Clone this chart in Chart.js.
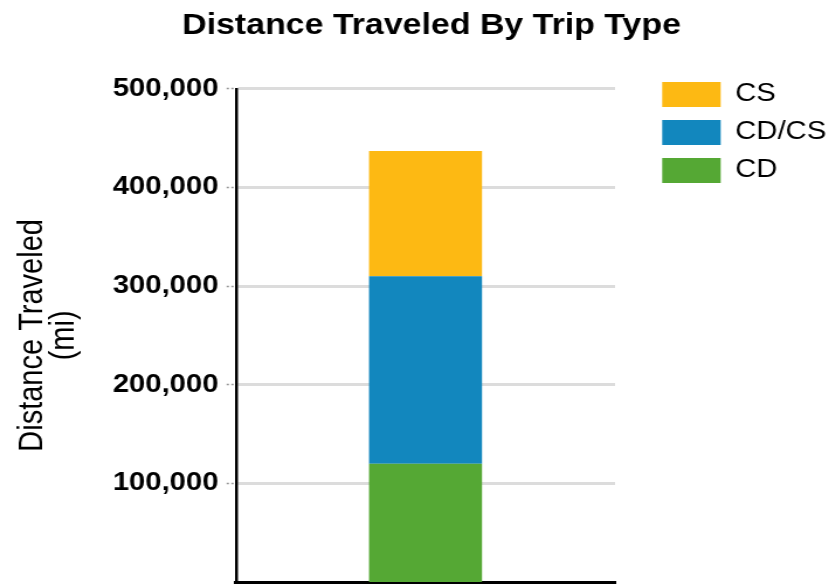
<!DOCTYPE html>
<html>
<head>
<meta charset="utf-8">
<title>Distance Traveled By Trip Type</title>
<script src="https://cdn.jsdelivr.net/npm/chart.js@4/dist/chart.umd.min.js"></script>
<style>
  html, body { margin: 0; padding: 0; background: #fff; overflow: hidden; }
  /* the source image is stretched sideways, so draw narrow and widen */
  #wrap { width: 709px; height: 584px; transform: scaleX(1.1693); transform-origin: 0 0; }
</style>
</head>
<body>
<div id="wrap"><canvas id="tripChart" width="709" height="584"></canvas></div>
<script>
const categories = [""];
const seriesNames = ["CD", "CD/CS", "CS"];
const cdValues = [120000];
const cdCsValues = [190000];
const csValues = [127000];
const yTicks = [0, 100000, 200000, 300000, 400000, 500000];
const seriesColors = ["#55A834", "#1287BE", "#FDB913"];

Chart.defaults.font.family = "'Liberation Sans', Arial, sans-serif";
Chart.defaults.color = "#000";

const ctx = document.getElementById("tripChart").getContext("2d");
const tripChart = new Chart(ctx, {
  type: "bar",
  data: {
    labels: categories,
    datasets: [cdValues, cdCsValues, csValues].map((vals, i) => ({
      label: seriesNames[i],
      data: vals,
      backgroundColor: seriesColors[i],
      categoryPercentage: 1,
      barPercentage: 0.298,
    })),
  },
  options: {
    responsive: false,
    animation: false,
    layout: { padding: { left: 21.4, right: -7.6, top: 0, bottom: 2 } },
    plugins: {
      tooltip: { enabled: false },
      title: {
        display: true,
        text: "Distance Traveled By Trip Type",
        color: "#000",
        font: { size: 29, weight: "bold" },
        padding: { top: 9, bottom: 45 },
      },
      legend: {
        position: "right",
        align: "start",
        reverse: true,
        title: { display: true, text: " ", font: { size: 10 }, padding: { top: 0, bottom: 57 } },
        labels: {
          boxWidth: 50,
          boxHeight: 25,
          padding: 13,
          color: "#000",
          font: { size: 25 },
        },
      },
    },
    scales: {
      x: {
        stacked: true,
        grid: { display: false, drawTicks: false },
        ticks: { display: false },
        border: { color: "#000", width: 3 },
      },
      y: {
        stacked: true,
        min: yTicks[0],
        max: yTicks[yTicks.length - 1],
        ticks: {
          stepSize: yTicks[1] - yTicks[0],
          color: "#000",
          padding: 7,
          font: { size: 25, weight: "bold" },
          callback: (v) => (v === 0 ? null : v.toLocaleString("en-US")),
        },
        grid: {
          color: "#dcdcdc",
          lineWidth: 3,
          tickLength: 8,
          tickColor: "#999",
          tickWidth: 1.5,
          tickBorderDash: [2, 2],
        },
        border: { color: "#000", width: 2.5 },
        title: {
          display: true,
          text: ["Distance Traveled", "(mi)"],
          color: "#000",
          font: { size: 29, lineHeight: 0.94 },
          padding: { top: -7, bottom: 0 },
        },
        afterFit: (s) => {
          s.width = 180.4;
          s.paddingTop = 0;
          s.paddingBottom = 0;
        },
      },
      // empty spacer between the plot and the legend
      gap: {
        type: "linear",
        position: "right",
        display: false,
        afterFit: (s) => { s.width = 27.3; },
      },
    },
  },
});
</script>
</body>
</html>
